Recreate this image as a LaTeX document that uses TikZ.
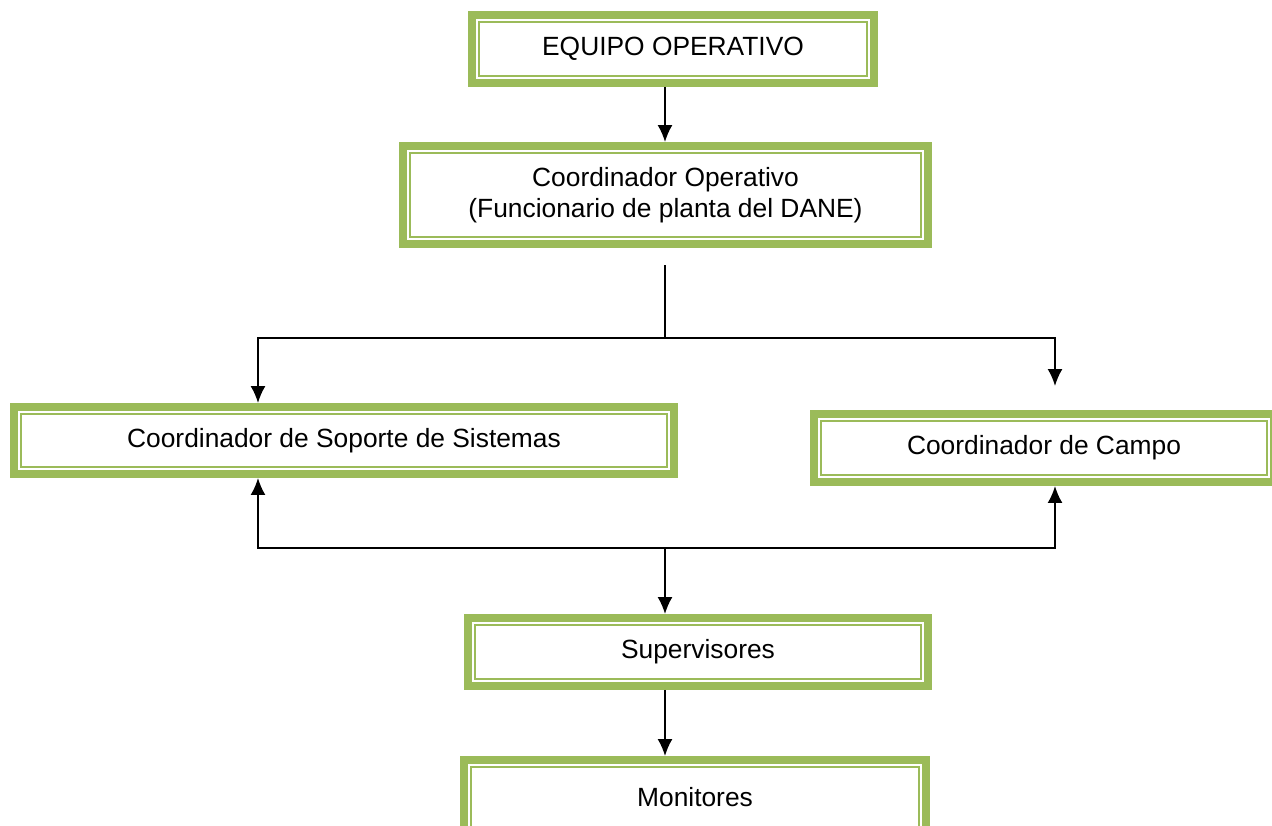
\documentclass[tikz,border=0pt]{standalone}
\usepackage{fontspec}
\setmainfont{Liberation Sans}
\usepackage{tikz}
\usetikzlibrary{arrows.meta,calc,positioning}
\definecolor{Leaf}{HTML}{9BBB59}

\begin{document}
\begin{tikzpicture}[>=Latex,
    box/.style={draw=Leaf, line width=4.5pt, fill=white, align=center, inner sep=0pt,
      font=\fontsize{15}{18}\selectfont},
    inner/.style={draw=Leaf, line width=1.3pt},
    arr/.style={-{Latex[length=3.4mm,width=3mm]}, line width=1.1pt}]
    \useasboundingbox (0,0) rectangle (25.44,-16.5);
    \node[box, minimum width=8.04cm, minimum height=1.36cm] (equipo) at (13.46,-0.98) {EQUIPO OPERATIVO};
    \node[box, minimum width=10.5cm, minimum height=1.96cm] (coord) at (13.31,-3.9) {Coordinador Operativo\\(Funcionario de planta del DANE)};
    \node[box, minimum width=13.2cm, minimum height=1.34cm] (soporte) at (6.88,-8.81) {Coordinador de Soporte de Sistemas};
    \node[box, minimum width=9.2cm, minimum height=1.36cm] (campo) at (20.88,-8.96) {Coordinador de Campo};
    \node[box, minimum width=9.2cm, minimum height=1.36cm] (super) at (13.96,-13.04) {Supervisores};
    \node[box, minimum width=9.24cm, minimum height=1.5cm] (mon) at (13.9,-15.95) {Monitores};
    \foreach \n in {equipo,coord,soporte,campo,super,mon}
      \draw[inner] ($(\n.south west)+(0.22,0.22)$) rectangle ($(\n.north east)-(0.22,0.22)$);
    % fork points
    \coordinate (split) at (13.3,-5.3);
    \coordinate (fork) at (13.3,-6.76);
    \coordinate (join) at (13.3,-10.96);
    \coordinate (lx) at (5.16,0);
    \coordinate (rgt) at (21.1,-7.72);
    \draw[arr] (equipo.south -| split) -- (split |- coord.north);
    \draw[line width=1.1pt] (split) -- (fork);
    \draw[arr] (fork) -| (lx |- soporte.north);
    \draw[arr] (fork) -| (rgt);
    \draw[arr] (join) -| (lx |- soporte.south);
    \draw[arr] (join) -| (rgt |- campo.south);
    \draw[arr] (join) -- (join |- super.north);
    \draw[arr] (join |- super.south) -- (join |- mon.north);
  \end{tikzpicture}
\end{document}
